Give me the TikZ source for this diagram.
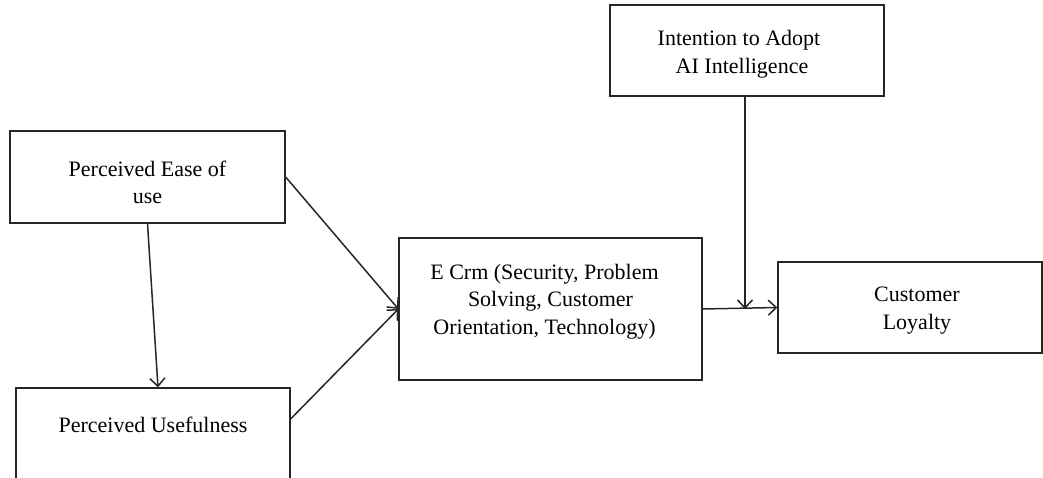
\documentclass[tikz,border=0pt]{standalone}
\usepackage{fontspec}
\setmainfont{Liberation Serif}
\usetikzlibrary{arrows.meta}
\begin{document}
\begin{tikzpicture}[x=1pt,y=-1pt,
  box/.style={draw=black!85,line width=1.3pt,rectangle,inner sep=0pt,align=center,
    font=\fontsize{22}{27.5}\selectfont},
  arr/.style={line width=1.5pt,draw=black!85,-{Straight Barb[length=8pt,width=15pt,line width=1.5pt]}}]
\useasboundingbox (0,0) rectangle (1043,478);
\node[box,minimum width=275pt,minimum height=92pt,text height=55pt,text depth=1.5pt] (peou) at (147.5,177) {Perceived Ease of\\use};
\node[box,minimum width=274pt,minimum height=92pt,text height=15pt,text depth=18pt] (pu) at (153,434) {Perceived Usefulness};
\node[box,minimum width=303pt,minimum height=142pt,text height=65pt,text depth=15pt] (ecrm) at (550.5,309) {E Crm (Security, Problem\hspace*{12pt}\\Solving, Customer\hspace*{12pt}\\Orientation, Technology)\hspace*{12pt}};
\node[box,minimum width=264pt,minimum height=91pt,text height=50pt,text depth=6.5pt] (cl) at (910,307.5) {\hspace*{14pt}Customer\\\hspace*{14pt}Loyalty};
\node[box,minimum width=274pt,minimum height=91pt,text height=50pt,text depth=4.5pt] (ia) at (747,50.5) {Intention to Adopt\hspace*{16pt}\\AI Intelligence\hspace*{10pt}};
\coordinate (j) at ([xshift=-2pt]ia.south |- ecrm.east);
\draw[arr] (peou.south) -- ([xshift=5pt]pu.north);
\draw[arr] (peou.east) -- (ecrm.west);
\draw[arr] ([yshift=15pt]pu.east) -- (ecrm.west);
\draw[arr] (ecrm.east) -- (cl.west);
\draw[arr] ([xshift=-2pt]ia.south) -- (j);
\end{tikzpicture}
\end{document}
